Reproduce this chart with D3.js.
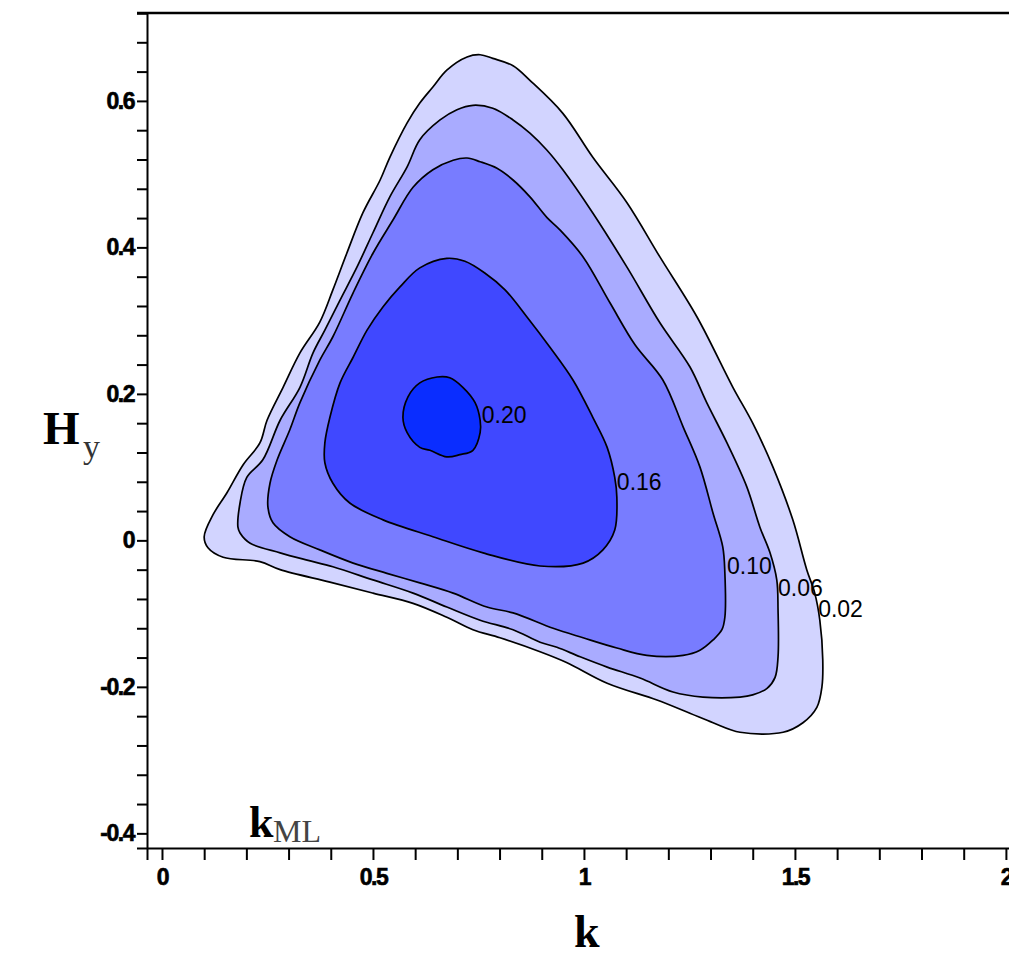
<!DOCTYPE html>
<html>
<head>
<meta charset="utf-8">
<script src="https://cdn.jsdelivr.net/npm/d3@7"></script>
<style>
  body { margin: 0; background: #fff; }
  #chart svg { display: block; }
</style>
</head>
<body>
<div id="chart"></div>
<script>
// contour levels, outer to inner
let levelLabels = ['0.02', '0.06', '0.10', '0.16', '0.20']
let levelColors = ['#d2d4ff', '#a9abff', '#787cff', '#4048ff', '#0a2dff']
// where each level label sits, [k, Hy]
let labelPos = [[1.555, -0.094], [1.46, -0.064], [1.339, -0.034], [1.078, 0.080], [0.758, 0.172]]

// contour outlines, [k, Hy]
let contour002 = [
  [0.100, 0.005], [0.121, 0.035], [0.154, 0.065], [0.192, 0.103], [0.232, 0.133], [0.249, 0.164],
  [0.287, 0.209], [0.327, 0.256], [0.374, 0.298], [0.405, 0.342], [0.438, 0.392], [0.476, 0.447],
  [0.517, 0.492], [0.540, 0.523], [0.581, 0.570], [0.611, 0.597], [0.642, 0.619], [0.675, 0.642],
  [0.723, 0.660], [0.754, 0.663], [0.784, 0.658], [0.832, 0.648], [0.872, 0.628], [0.950, 0.583],
  [1.021, 0.523], [1.102, 0.461], [1.180, 0.387], [1.268, 0.305], [1.353, 0.209], [1.400, 0.160],
  [1.448, 0.100], [1.495, 0.028], [1.528, -0.040], [1.547, -0.072], [1.559, -0.109], [1.566, -0.163],
  [1.564, -0.200], [1.552, -0.228], [1.519, -0.249], [1.472, -0.262], [1.370, -0.262], [1.306, -0.249],
  [1.251, -0.236], [1.173, -0.218], [1.055, -0.195], [0.960, -0.167], [0.896, -0.152], [0.801, -0.133],
  [0.737, -0.122], [0.675, -0.105], [0.595, -0.086], [0.500, -0.072], [0.398, -0.057], [0.280, -0.040],
  [0.232, -0.029], [0.145, -0.023], [0.109, -0.010]
]
let contour006 = [
  [0.180, 0.018], [0.185, 0.051], [0.201, 0.086], [0.239, 0.110], [0.280, 0.164], [0.327, 0.209],
  [0.358, 0.256], [0.386, 0.287], [0.422, 0.328], [0.462, 0.373], [0.500, 0.420], [0.540, 0.469],
  [0.581, 0.510], [0.611, 0.547], [0.659, 0.574], [0.699, 0.588], [0.737, 0.594], [0.784, 0.590],
  [0.832, 0.574], [0.872, 0.556], [0.912, 0.533], [0.950, 0.506], [1.021, 0.447], [1.102, 0.373],
  [1.180, 0.297], [1.251, 0.237], [1.291, 0.188], [1.339, 0.133], [1.386, 0.073], [1.417, 0.018],
  [1.441, -0.017], [1.457, -0.054], [1.460, -0.095], [1.460, -0.159], [1.453, -0.187], [1.434, -0.202],
  [1.400, -0.211], [1.370, -0.214], [1.282, -0.214], [1.211, -0.207], [1.133, -0.188], [1.055, -0.173],
  [0.991, -0.159], [0.936, -0.146], [0.896, -0.139], [0.832, -0.122], [0.754, -0.109], [0.675, -0.091],
  [0.595, -0.072], [0.500, -0.054], [0.405, -0.036], [0.344, -0.027], [0.280, -0.017], [0.209, -0.004],
  [0.185, 0.010]
]
let contour010 = [
  [0.251, 0.046], [0.256, 0.078], [0.273, 0.110], [0.303, 0.151], [0.327, 0.188], [0.374, 0.246],
  [0.405, 0.278], [0.453, 0.338], [0.500, 0.392], [0.547, 0.437], [0.595, 0.482], [0.642, 0.506],
  [0.690, 0.519], [0.723, 0.522], [0.754, 0.517], [0.794, 0.508], [0.832, 0.492], [0.872, 0.469],
  [0.912, 0.441], [0.943, 0.424], [0.998, 0.387], [1.062, 0.324], [1.121, 0.267], [1.187, 0.219],
  [1.235, 0.155], [1.275, 0.100], [1.306, 0.037], [1.329, -0.009], [1.334, -0.045], [1.334, -0.105],
  [1.327, -0.122], [1.306, -0.136], [1.275, -0.150], [1.235, -0.157], [1.149, -0.157], [1.078, -0.147],
  [0.998, -0.133], [0.927, -0.120], [0.832, -0.099], [0.770, -0.091], [0.690, -0.072], [0.611, -0.058],
  [0.533, -0.045], [0.453, -0.031], [0.374, -0.013], [0.303, 0.005], [0.263, 0.024]
]
let contour016 = [
  [0.386, 0.106], [0.386, 0.133], [0.398, 0.168], [0.422, 0.215], [0.453, 0.250], [0.486, 0.287],
  [0.524, 0.319], [0.564, 0.346], [0.611, 0.372], [0.675, 0.385], [0.718, 0.381], [0.765, 0.365],
  [0.813, 0.342], [0.865, 0.305], [0.919, 0.264], [0.974, 0.219], [1.021, 0.168], [1.055, 0.127],
  [1.073, 0.086], [1.078, 0.059], [1.073, 0.014], [1.045, -0.013], [0.998, -0.031], [0.896, -0.035],
  [0.761, -0.017], [0.642, 0.005], [0.524, 0.028], [0.445, 0.051], [0.405, 0.078]
]
let contour020 = [
  [0.652, 0.223], [0.682, 0.222], [0.713, 0.209], [0.742, 0.188], [0.754, 0.164], [0.754, 0.147],
  [0.737, 0.123], [0.706, 0.117], [0.675, 0.114], [0.635, 0.123], [0.611, 0.127], [0.581, 0.147],
  [0.571, 0.168], [0.583, 0.196], [0.611, 0.215]
]
let contours = [contour002, contour006, contour010, contour016, contour020]

// axis ticks
let xTickLabels = [0, 0.5, 1, 1.5, 2]
let yTickLabels = [-0.4, -0.2, 0, 0.2, 0.4, 0.6]

let width = 1009, height = 953

let svg = d3.select('#chart').append('svg')
  .attr('width', width)
  .attr('height', height)
  .style('background', '#fff')

let x = d3.scaleLinear().domain([-0.0355, 2.05]).range([147, 1027])
let y = d3.scaleLinear().domain([-0.42, 0.72]).range([848, 13])

let line = d3.line()
  .x(function(d) { return x(d[0]) })
  .y(function(d) { return y(d[1]) })
  .curve(d3.curveCatmullRomClosed.alpha(0.5))

// filled contours, outer first
svg.append('g').selectAll('path')
  .data(contours)
  .enter()
  .append('path')
    .attr('d', line)
    .attr('fill', function(d, i) { return levelColors[i] })
    .attr('stroke', '#000')
    .attr('stroke-width', 1.7)

svg.append('g').selectAll('text')
  .data(labelPos)
  .enter()
  .append('text')
    .attr('x', function(d) { return x(d[0]) })
    .attr('y', function(d) { return y(d[1]) })
    .attr('dy', '0.36em')
    .style('font-family', '"Liberation Sans", Arial, sans-serif')
    .style('font-size', '23px')
    .attr('fill', '#000')
    .text(function(d, i) { return levelLabels[i] })

// tick values every 0.1 on k and every 0.04 on Hy, plus the frame corners
let round = function(v) { return Math.round(v * 1000) / 1000 }
let xTicks = d3.range(0, 21).map(function(i) { return round(i * 0.1) })
xTicks.unshift(-0.0355)
let yTicks = d3.range(-10, 19).map(function(i) { return round(i * 0.04) })
yTicks.push(-0.42, 0.72)

let xAxis = d3.axisBottom(x)
  .tickValues(xTicks)
  .tickSize(12)
  .tickSizeOuter(0)
  .tickPadding(9)
  .tickFormat(function(d) { return xTickLabels.indexOf(d) >= 0 ? String(d) : '' })

let yAxis = d3.axisLeft(y)
  .tickValues(yTicks)
  .tickSize(10)
  .tickSizeOuter(0)
  .tickPadding(3)
  .tickFormat(function(d) { return yTickLabels.indexOf(d) >= 0 ? String(d) : '' })

let gx = svg.append('g').attr('transform', 'translate(0,' + y(-0.42) + ')').call(xAxis)
let gy = svg.append('g').attr('transform', 'translate(' + x(-0.0355) + ',0)').call(yAxis)

;[gx, gy].forEach(function(g) {
  g.selectAll('.domain').attr('stroke', '#000').attr('stroke-width', 2)
  g.selectAll('.tick line').attr('stroke', '#000').attr('stroke-width', 2)
  g.selectAll('.tick text')
    .attr('fill', '#000')
    .attr('stroke', '#000')
    .attr('stroke-width', 0.6)
    .style('font-family', '"Liberation Sans", Arial, sans-serif')
    .style('font-weight', 'bold')
    .style('font-size', '23px')
    .style('letter-spacing', '-1.5px')
})

// top frame line
svg.append('line')
  .attr('x1', 137).attr('x2', width)
  .attr('y1', y(0.72)).attr('y2', y(0.72))
  .attr('stroke', '#000').attr('stroke-width', 2.5)

// axis titles
let serif = '"Liberation Serif", "Times New Roman", serif'
svg.append('text').attr('x', 43).attr('y', 444)
  .style('font-family', serif).style('font-weight', 'bold').style('font-size', '47px')
  .text('H')
svg.append('text').attr('x', 83).attr('y', 458)
  .style('font-family', serif).style('font-size', '34px').attr('fill', '#333')
  .text('y')

svg.append('text').attr('x', 574).attr('y', 947)
  .style('font-family', serif).style('font-weight', 'bold').style('font-size', '46px')
  .text('k')

svg.append('text').attr('x', 249).attr('y', 837)
  .style('font-family', serif).style('font-weight', 'bold').style('font-size', '44px')
  .text('k')
svg.append('text').attr('x', 273).attr('y', 842)
  .style('font-family', serif).style('font-size', '32px').attr('fill', '#444')
  .text('ML')
</script>
</body>
</html>
